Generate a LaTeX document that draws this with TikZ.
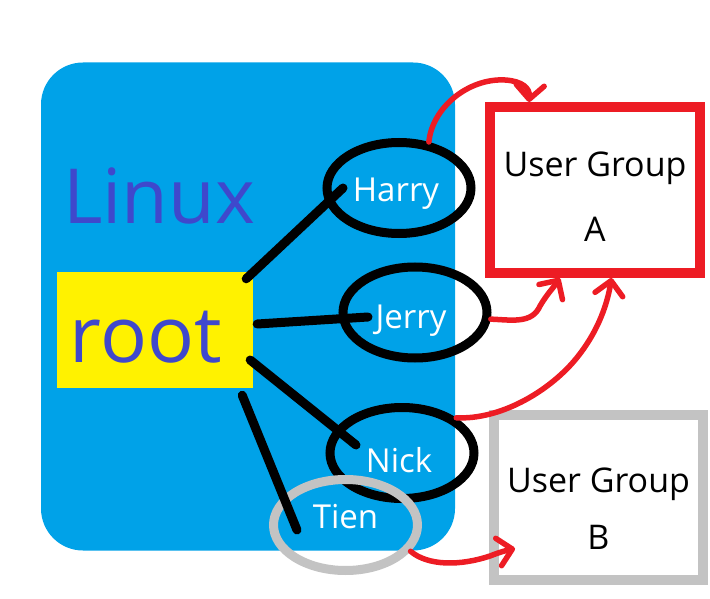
\documentclass[tikz,border=0pt]{standalone}
\usepackage{fontspec}
\setmainfont{Open Sans}
\usetikzlibrary{shapes.geometric,arrows.meta,calc}
\definecolor{paintblue}{HTML}{00A2E8}
\definecolor{paintyellow}{HTML}{FFF200}
\definecolor{indigo}{HTML}{3F48CC}
\definecolor{paintred}{HTML}{ED1C24}
\definecolor{paintgray}{HTML}{C3C3C3}
\begin{document}
\begin{tikzpicture}[x=1pt,y=-1pt,
  user/.style={ellipse, draw=black, line width=9pt, minimum width=144pt, minimum height=91pt,
    inner sep=0pt, text=white, font=\fontsize{33}{38}\selectfont, text depth=0pt},
  grp/.style={rectangle, line width=10pt, fill=white, minimum width=210pt, minimum height=166pt,
    inner sep=0pt, align=center, font=\fontsize{34}{65}\selectfont},
  link/.style={draw=black, line width=9pt, line cap=round},
  flow/.style={draw=paintred, line width=5.5pt, line cap=round, line join=round,
    -{Straight Barb[length=14pt,width=28pt,round]}},
]
\useasboundingbox (0,0) rectangle (710,599);
% Linux area
\node[fill=paintblue, rounded corners=42pt, minimum width=414pt, minimum height=488pt, inner sep=0pt] (linux) at (248,306.5) {};
\node[text=indigo, font=\fontsize{76}{80}\selectfont, anchor=base, inner sep=0pt] (linuxlabel) at (159,223) {Linux};
\node[fill=paintyellow, minimum width=196pt, minimum height=116pt, inner sep=0pt, text=indigo,
  font=\fontsize{78}{90}\selectfont, text height=64pt, text depth=0pt] (root) at (155,330) {root\hspace*{18pt}};
% users
\node[user, text height=28pt] (harry) at (399,188) {Harry\hspace*{6pt}};
\node[user, text height=31pt] (jerry) at (415,312.5) {\hspace*{-8pt}Jerry};
\node[user, text height=38pt] (nick) at (402,453) {Nick\hspace*{6pt}};
\node[user, draw=paintgray, text height=6pt] (tien) at (345.5,525) {Tien};
% groups
\node[grp, draw=paintred] (uga) at (595,190) {\rule{0pt}{38pt}User Group\\A};
\node[grp, draw=paintgray, minimum width=209pt, minimum height=165pt, font=\fontsize{34}{57}\selectfont] (ugb) at (598.5,497.5) {\rule{0pt}{46pt}User Group\\B};
% root links
\draw[link] ($(root.north east)+(-7,7)$) -- ($(harry.center)+(-56,0)$);
\draw[link] ($(root.east)+(4,-6)$) -- ($(jerry.center)+(-47,4.5)$);
\draw[link] ($(root.east)+(-3,30)$) -- ($(nick.center)+(-46,-8)$);
\draw[link] ($(root.south east)+(-11,7)$) -- ($(tien.center)+(-48.5,5)$);
% memberships
\draw[flow] (harry.57) .. controls (432,108) and (468,78) .. (505,80)
  .. controls (522,81) and (530,88) .. ($(uga.north west)!0.2!(uga.north east)$);
\draw[flow] (jerry.-5) .. controls (512,320) and (532,324) .. (540,306)
  .. controls (547,294) and (554,287) .. ($(uga.south west)!0.34!(uga.south east)$);
\draw[flow] (nick.33) .. controls (500,420) and (548,392) .. (575,360)
  .. controls (600,330) and (608,300) .. ($(uga.south west)!0.575!(uga.south east)$);
\draw[flow] (tien.-22) .. controls (428,566) and (460,566) .. (490,556)
  .. controls (500,552) and (508,550) .. ($(ugb.west)+(26,51)$);
\end{tikzpicture}
\end{document}
